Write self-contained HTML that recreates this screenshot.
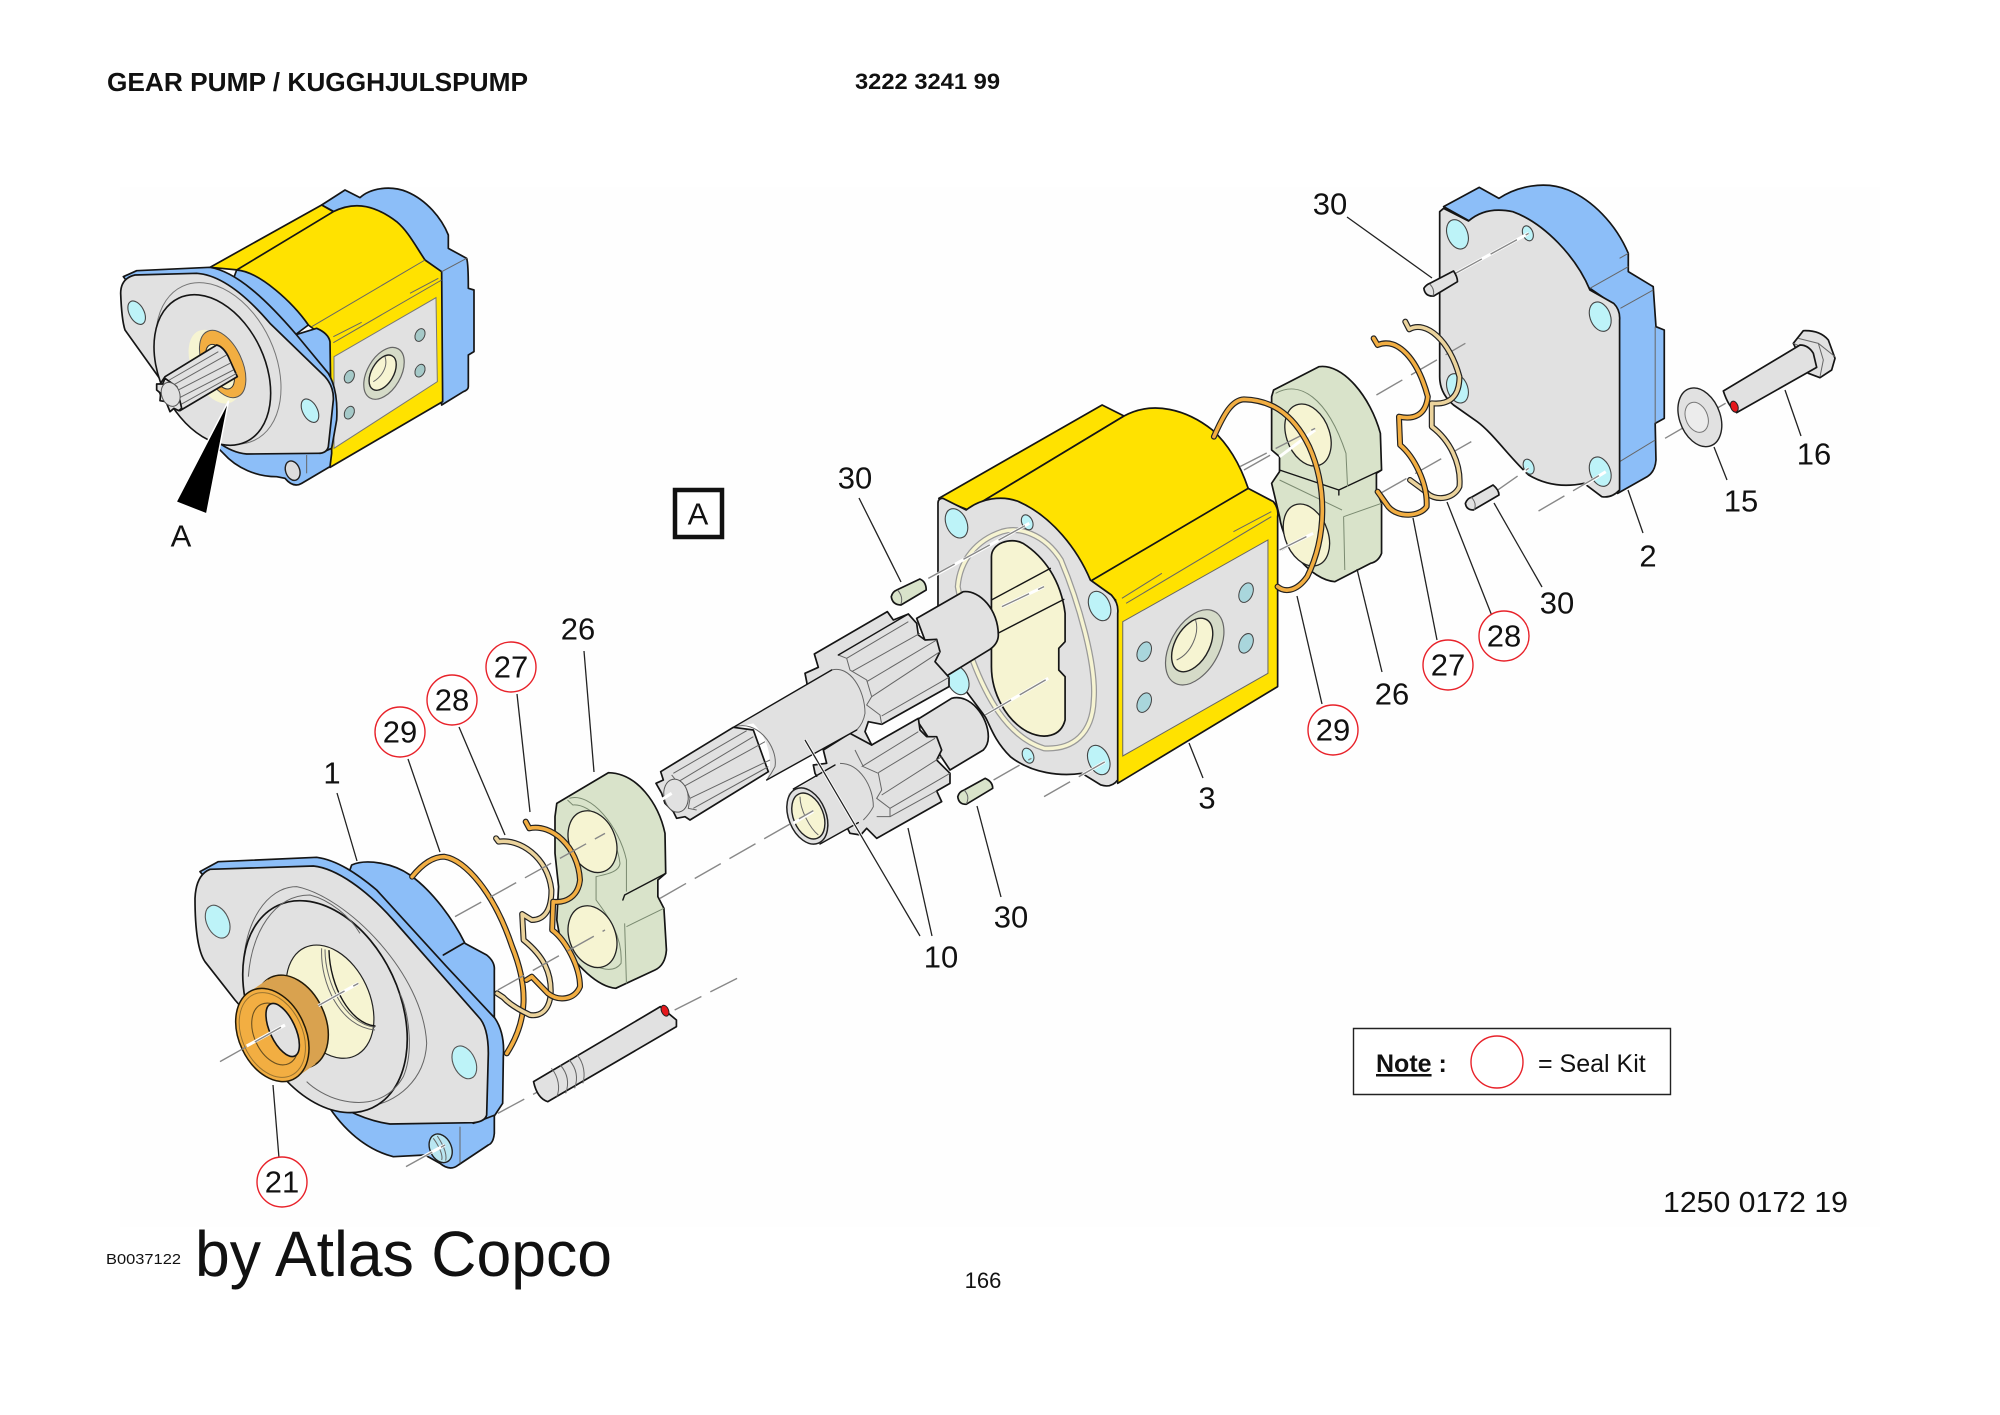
<!DOCTYPE html>
<html><head><meta charset="utf-8"><style>
html,body{margin:0;padding:0;background:#fff}
svg{display:block}
svg *{vector-effect:non-scaling-stroke}
.k{stroke:#151515;stroke-width:1.7;stroke-linejoin:round;stroke-linecap:round}
.t{stroke:#666;stroke-width:1;fill:none}
.n{stroke:#151515;stroke-width:1.4;fill:none;stroke-linecap:round;stroke-linejoin:round}
.y{fill:#FFE200}.b{fill:#8CBEF8}.g{fill:#E1E1E1}.c{fill:#F6F4D2}.h{fill:#BDF3F8}.s{fill:#D9E3CA}.o{fill:#F2AE42}
.ld{stroke:#222;stroke-width:1.3;fill:none}
.dw{stroke:#fff;stroke-width:3;fill:none}
.d{stroke:#888;stroke-width:1.4;fill:none;stroke-dasharray:30 10}
.rk{stroke:#222;stroke-width:6;fill:none;stroke-linejoin:round;stroke-linecap:round}
.ro{stroke:#F2AE42;stroke-width:3.6;fill:none;stroke-linejoin:round;stroke-linecap:round}
.rt{stroke:#EBD39C;stroke-width:3.6;fill:none;stroke-linejoin:round;stroke-linecap:round}
text{font-family:"Liberation Sans",sans-serif;fill:#111}
.l{font-size:31px;text-anchor:middle;dominant-baseline:central}
</style></head><body>
<svg xmlns="http://www.w3.org/2000/svg" width="2000" height="1415" viewBox="0 0 2000 1415">
<rect width="2000" height="1415" fill="#fff"/>
<rect x="120" y="187" width="1760" height="1040" fill="#fefefe"/>

<!-- small complete pump -->
<g transform="translate(80,160) scale(.33333)">
<path class="k b" d="M725,135 L795,90 L840,113 C870,85 930,75 980,95 C1040,120 1085,175 1105,225 L1105,265 L1160,295 Q1165,310 1165,385 L1182,390 L1182,575 L1165,585 L1165,680 Q1165,690 1150,695 L1085,735 L1030,300 Z"/>
<path class="k y" d="M390,322 L725,135 L760,155 L475,330 Z"/>
<path class="k y" d="M470,330 L760,155 C830,120 890,140 950,185 C985,215 1005,255 1035,300 L1085,335 L1088,725 L750,922 L745,540 L685,495 C640,430 540,340 470,330 Z"/>
<path class="t" d="M1035,300 L695,500 M1085,360 L760,548 M760,530 L845,487 M990,400 L1075,355 M1085,335 L1160,295"/>
<path class="g" stroke="#777" stroke-width="1" d="M762,590 L1068,413 L1072,665 L762,865 Z"/>
<ellipse cx="912" cy="640" rx="50" ry="85" transform="rotate(30 912 640)" fill="#D5DBC8" stroke="#666" stroke-width="1.2"/>
<ellipse cx="908" cy="638" rx="33" ry="58" transform="rotate(30 908 638)" class="c" stroke="#222" stroke-width="1.4"/>
<path class="t" d="M915,590 C925,620 905,650 880,665"/>
<g fill="#A5C9C8" stroke="#444" stroke-width="1"><ellipse cx="808" cy="650" rx="14" ry="20" transform="rotate(25 808 650)"/><ellipse cx="808" cy="758" rx="14" ry="20" transform="rotate(25 808 758)"/><ellipse cx="1020" cy="525" rx="14" ry="20" transform="rotate(25 1020 525)"/><ellipse cx="1020" cy="632" rx="14" ry="20" transform="rotate(25 1020 632)"/></g>
<path class="k b" d="M470,330 C540,335 640,430 685,495 L645,525 L710,505 Q745,520 750,545 L755,880 L750,920 L665,970 Q640,985 615,955 L590,950 C530,950 470,925 430,880 L310,760 Z"/>
<path class="k b" d="M130,350 L170,332 L390,322 C470,335 560,420 650,525 L745,640 Q775,690 770,780 L755,865 L720,880 L400,700 Z"/>
<path class="k g" d="M122,400 Q122,355 165,345 L350,340 C430,345 510,420 570,490 L735,650 Q762,680 760,720 L745,860 Q740,880 715,880 L500,882 C440,878 380,825 335,770 L235,650 L135,510 Q125,480 122,400 Z"/>
<path class="t" d="M680,885 L680,940"/>
<ellipse cx="638" cy="932" rx="21" ry="30" transform="rotate(-20 638 932)" fill="#ddd" stroke="#222" stroke-width="1.4"/>
<ellipse cx="170" cy="458" rx="22" ry="38" transform="rotate(-28 170 458)" class="h" stroke="#444" stroke-width="1.1"/>
<ellipse cx="690" cy="752" rx="22" ry="38" transform="rotate(-28 690 752)" class="h" stroke="#444" stroke-width="1.1"/>
<ellipse cx="415" cy="610" rx="170" ry="255" transform="rotate(-25 415 610)" fill="none" stroke="#777" stroke-width="1"/>
<ellipse cx="397" cy="630" rx="158" ry="238" transform="rotate(-25 397 630)" class="g" stroke="#151515" stroke-width="1.6"/>
<ellipse cx="405" cy="620" rx="68" ry="118" transform="rotate(-25 405 620)" class="c"/>
<ellipse cx="428" cy="612" rx="58" ry="108" transform="rotate(-25 428 612)" class="o" stroke="#555" stroke-width="1"/>
<ellipse cx="420" cy="620" rx="34" ry="72" transform="rotate(-25 420 620)" class="c" stroke="#333" stroke-width="1"/>
<path class="k g" d="M255,650 L410,555 Q430,560 445,590 L472,650 L300,752 Q240,730 235,680 Z"/>
<path class="t" d="M268,660 L415,575 M275,678 L440,585 M285,695 L450,610 M295,715 L460,630 M300,735 L470,640"/>
<path class="k g" d="M230,672 L248,672 L255,655 L290,680 L305,745 L296,752 L282,745 L270,755 L258,725 L240,722 L242,700 L230,690 Z"/>
<ellipse cx="272" cy="703" rx="27" ry="37" transform="rotate(-20 272 703)" class="g" stroke="#555" stroke-width="1"/>
<path fill="#000" stroke="#fff" stroke-width="1.5" d="M288,1026 L446,722 L380,1062 Z"/>
</g>
<text x="181" y="536" class="l">A</text>

<!-- big flange, part 1 -->
<g transform="translate(180,840) scale(.33333)">
<path class="k b" d="M515,75 C560,55 640,70 690,105 C760,155 820,240 855,310 L920,345 Q945,365 943,390 L943,880 Q940,910 925,915 L835,975 Q810,995 780,970 L735,945 L640,950 C560,930 490,870 440,790 L350,730 L400,400 Z"/>
<path class="t" d="M840,860 L840,970"/>
<path class="k" fill="none" d="M790,345 L850,310"/>
<path class="k b" d="M60,95 L115,65 L410,52 C470,60 530,100 590,150 L800,380 L945,535 Q975,580 970,650 L968,790 L945,825 L880,850 L500,600 Z"/>
<path class="k g" d="M45,175 Q48,105 90,88 L400,78 C470,85 560,150 640,240 L895,530 Q925,560 925,640 L920,825 Q915,845 880,848 L630,852 C540,840 460,790 400,750 L165,480 L75,365 Q45,320 45,175 Z"/>
<ellipse cx="113" cy="245" rx="33" ry="52" transform="rotate(-25 113 245)" class="h" stroke="#555" stroke-width="1.1"/>
<ellipse cx="853" cy="667" rx="33" ry="52" transform="rotate(-25 853 667)" class="h" stroke="#555" stroke-width="1.1"/>
<path class="t" d="M190,390 C190,250 260,140 350,140 C500,170 730,400 740,610 C735,720 650,790 560,800"/>
<ellipse cx="435" cy="500" rx="223" ry="335" transform="rotate(-25 435 500)" class="g" stroke="#151515" stroke-width="1.7"/>
<path class="t" d="M205,410 C215,280 280,165 390,165 C450,180 510,230 540,280 M660,460 C690,530 700,640 670,710 C630,780 560,800 480,780 C440,770 400,745 380,725"/>
<ellipse cx="450" cy="485" rx="119" ry="179" transform="rotate(-25 450 485)" class="c" stroke="#222" stroke-width="1.2"/>
<path class="t" d="M425,325 C420,430 480,560 585,570 M435,328 C435,430 495,550 585,562"/>
<path class="n" d="M447,332 C450,440 510,550 585,558"/>
<!-- seal -->
<ellipse cx="335" cy="545" rx="100" ry="147" transform="rotate(-25 335 545)" fill="#D9A24F" stroke="#221a08" stroke-width="1.5"/>
<path fill="#D9A24F" d="M205,458 L263,418 L407,672 L349,712 Z"/>
<ellipse cx="277" cy="585" rx="100" ry="147" transform="rotate(-25 277 585)" class="o" stroke="#221a08" stroke-width="1.5"/>
<ellipse cx="277" cy="585" rx="90" ry="134" transform="rotate(-25 277 585)" fill="none" stroke="#9a7430" stroke-width="1"/>
<ellipse cx="285" cy="582" rx="62" ry="98" transform="rotate(-25 285 582)" fill="none" stroke="#6a5020" stroke-width="1.1"/>
<ellipse cx="308" cy="570" rx="38" ry="86" transform="rotate(-25 308 570)" class="g" stroke="#151515" stroke-width="1.6"/>
<path class="dw" d="M200,618 L315,555 M415,497 L535,430"/><path class="d" d="M120,665 L315,555"/><path class="d" d="M415,497 L535,430" stroke-dasharray="60 8"/>
<!-- boss -->
<ellipse cx="782" cy="925" rx="32" ry="45" transform="rotate(-25 782 925)" fill="#B9E6F1" stroke="#222" stroke-width="1.4"/>
<path class="t" d="M760,895 C775,915 790,945 785,960 M772,888 C790,915 802,940 797,962"/>
<path class="dw" d="M720,955 L795,915"/><path class="d" d="M678,980 L795,915"/>
</g>

<!-- rings, plate, pin -->
<g transform="translate(180,760) scale(.35714,.33333)">
<path class="rk" d="M650,350 C680,310 710,290 740,290 C800,300 880,400 930,560 C975,680 975,780 915,880"/>
<path class="ro" d="M650,350 C680,310 710,290 740,290 C800,300 880,400 930,560 C975,680 975,780 915,880"/>
<path class="k s" d="M1050,170 L1055,130 L1200,38 C1280,40 1340,130 1358,220 L1360,340 L1338,360 L1338,410 L1355,445 L1362,570 C1360,600 1350,620 1330,630 L1220,685 C1170,680 1110,620 1065,540 L1055,480 L1060,380 L1050,280 Z"/>
<path class="n" d="M1245,405 L1360,340 M1245,405 L1240,420"/>
<path stroke="#7a8a70" stroke-width="1" fill="none" d="M1090,115 C1150,95 1230,200 1250,300 L1250,395 M1245,490 L1250,670 M1250,500 L1355,445"/>
<path d="M1085,120 L1100,135 C1150,130 1220,210 1232,310 C1230,340 1180,345 1165,350 L1165,420 C1200,470 1240,530 1235,610 C1215,640 1170,630 1140,600" stroke="#7a8a70" stroke-width="1" fill="none"/>
<ellipse cx="1155" cy="245" rx="65" ry="95" transform="rotate(-18 1155 245)" class="c" stroke="#222" stroke-width="1.3"/>
<ellipse cx="1155" cy="530" rx="65" ry="95" transform="rotate(-18 1155 530)" class="c" stroke="#222" stroke-width="1.3"/>
<path class="rk" d="M885,235 L892,245 C950,235 1030,290 1040,390 C1040,450 1020,480 985,480 L958,462 L962,540 C1020,590 1040,640 1038,700 C1035,750 1010,770 980,765 C950,750 920,730 905,712 L888,700"/>
<path class="rt" d="M885,235 L892,245 C950,235 1030,290 1040,390 C1040,450 1020,480 985,480 L958,462 L962,540 C1020,590 1040,640 1038,700 C1035,750 1010,770 980,765 C950,750 920,730 905,712 L888,700"/>
<path class="rk" d="M968,185 L978,205 C1040,190 1115,260 1120,360 C1115,410 1080,430 1045,425 L1042,510 C1080,540 1120,620 1120,680 C1105,720 1060,725 1030,700 L985,650 L970,660"/>
<path class="ro" d="M968,185 L978,205 C1040,190 1115,260 1120,360 C1115,410 1080,430 1045,425 L1042,510 C1080,540 1120,620 1120,680 C1105,720 1060,725 1030,700 L985,650 L970,660"/>
<path class="d" d="M770,470 L1190,220 M890,690 L1190,510"/>
<path class="d" d="M1385,750 L1560,655 M890,1060 L1020,985"/>
<path class="k g" d="M990,965 L1345,740 L1390,780 L1390,800 L1030,1025 Q1000,1015 990,965 Z"/>
<path class="t" d="M1040,925 C1060,950 1065,985 1055,1010 M1065,915 C1085,940 1090,970 1080,1000 M1090,900 C1110,925 1115,955 1105,985 M1112,885 C1132,910 1135,945 1128,970"/>
<ellipse cx="1358" cy="752" rx="10" ry="17" transform="rotate(-20 1358 752)" fill="#E5171B" stroke="#222" stroke-width="1"/>
</g>

<!-- housing -->
<g transform="translate(640,400) scale(.42088,.33333)">
<path class="k y" d="M710,295 L1098,15 L1150,48 L780,330 Z"/>
<path class="k y" d="M1150,48 C1220,0 1300,30 1360,90 C1395,130 1425,190 1445,265 L1505,305 Q1518,325 1515,350 L1515,860 L1135,1150 L1130,600 L1070,540 C1040,470 970,370 880,310 C850,290 810,300 780,330 Z"/>
<path class="k" fill="none" d="M1075,540 L1445,265"/>
<path class="t" d="M1145,595 L1240,520 M1410,395 L1500,335 M1155,610 L1500,350"/>
<path class="g" stroke="#666" stroke-width="1" d="M1147,665 L1492,420 L1492,820 L1147,1068 Z"/>
<ellipse cx="1318" cy="742" rx="60" ry="118" transform="rotate(20 1318 742)" fill="#D5DBC8" stroke="#666" stroke-width="1.2"/>
<ellipse cx="1312" cy="735" rx="42" ry="84" transform="rotate(20 1312 735)" class="c" stroke="#222" stroke-width="1.4"/>
<path class="t" d="M1320,660 C1330,700 1310,760 1275,780"/>
<g fill="#A9D6DC" stroke="#444" stroke-width="1"><ellipse cx="1198" cy="755" rx="16" ry="30" transform="rotate(15 1198 755)"/><ellipse cx="1198" cy="908" rx="16" ry="30" transform="rotate(15 1198 908)"/><ellipse cx="1440" cy="578" rx="16" ry="30" transform="rotate(15 1440 578)"/><ellipse cx="1440" cy="730" rx="16" ry="30" transform="rotate(15 1440 730)"/></g>
<path class="k g" d="M708,310 Q708,295 720,295 L775,330 C810,295 860,285 900,305 C980,350 1040,450 1070,540 L1120,585 Q1138,610 1135,640 L1135,1140 Q1120,1165 1095,1155 L1050,1120 C1000,1130 930,1120 880,1070 C840,1020 830,970 820,950 L708,760 Z"/>
<path d="M860,395 C800,420 760,480 755,560 L790,780 C820,880 870,1010 960,1045 C1030,1050 1075,1000 1078,900 C1085,790 1040,600 1000,480 C960,400 900,380 860,395 Z" fill="none" stroke="#999" stroke-width="6"/>
<path d="M860,395 C800,420 760,480 755,560 L790,780 C820,880 870,1010 960,1045 C1030,1050 1075,1000 1078,900 C1085,790 1040,600 1000,480 C960,400 900,380 860,395 Z" fill="none" stroke="#F6F4D2" stroke-width="3.5"/>
<path class="k c" d="M835,470 C835,430 880,410 910,430 C960,470 1000,540 1010,640 L1010,725 L995,745 L995,810 L1010,830 L1010,960 C1000,1010 960,1020 920,995 C870,960 835,880 835,800 Z"/>
<path class="n" d="M835,600 L975,505 M850,700 L1007,598"/>
<g class="h" stroke="#444" stroke-width="1.1">
<ellipse cx="752" cy="370" rx="25" ry="45" transform="rotate(-15 752 370)"/>
<ellipse cx="1092" cy="618" rx="25" ry="45" transform="rotate(-15 1092 618)"/>
<ellipse cx="1090" cy="1080" rx="25" ry="45" transform="rotate(-15 1090 1080)"/>
<ellipse cx="755" cy="840" rx="25" ry="45" transform="rotate(-15 755 840)"/>
<ellipse cx="920" cy="367" rx="13" ry="23" transform="rotate(-15 920 367)"/>
<ellipse cx="922" cy="1067" rx="13" ry="23" transform="rotate(-15 922 1067)"/>
</g>
<path class="dw" d="M695,530 L925,370 M820,945 L970,835 M860,620 L960,560 M1050,1125 L1105,1085"/><path class="d" d="M685,535 L925,370 M820,945 L970,835 M860,620 L960,560 M960,1190 L1105,1085 M840,1140 L930,1075"/>
<path class="d" d="M1435,210 L1568,115 M1525,450 L1568,420"/>
<path class="k s" d="M597,590 Q600,575 610,570 L665,537 Q680,545 680,570 L620,615 Q600,615 597,590 Z"/>
<path class="k s" d="M755,1190 Q758,1175 770,1170 L820,1135 Q838,1145 838,1165 L775,1213 Q757,1213 755,1190 Z"/>
<path class="t" d="M612,570 Q626,590 620,612 M770,1170 Q785,1190 775,1212"/>
</g>

<!-- gears and shafts -->
<g transform="translate(650,590) scale(.33333)">
<!-- lower gear -->
<path class="k g" d="M800,390 L905,325 C960,310 1015,380 1015,440 Q1015,465 1000,480 L900,540 L820,420 Z"/>
<path class="k g" d="M520,480 L600,430 L625,440 L665,465 L805,385 L810,420 L830,440 L860,440 L875,480 L860,510 L900,550 L900,580 L860,603 L875,635 L680,745 L650,715 L632,735 L600,730 L590,710 L495,550 L490,525 L530,520 Z"/>
<path class="t" d="M635,530 L805,425 M685,548 L855,445 M695,615 L875,500 M720,655 L900,550 M615,480 L640,530 L685,550 L695,600 L680,625 L720,655 L720,680 L680,680 M720,680 L860,603" stroke="#555"/>
<!-- bushing -->
<path class="g" d="M415,610 L570,520 C630,520 670,590 670,650 Q660,670 640,690 L510,762 C470,755 405,690 415,610 Z"/>
<path class="t" stroke="#666" d="M570,520 C630,520 670,590 670,650 Q660,670 640,690"/>
<path class="n" d="M430,597 L555,525 M510,762 L625,698"/>
<ellipse cx="472" cy="678" rx="56" ry="88" transform="rotate(-22 472 678)" class="g" stroke="#222" stroke-width="1.5"/>
<ellipse cx="475" cy="678" rx="45" ry="72" transform="rotate(-22 475 678)" class="c" stroke="#222" stroke-width="1.4"/>
<path class="t" d="M450,620 C450,660 480,715 505,735"/>
<path class="dw" d="M430,700 L490,664"/><path class="d" d="M30,925 L490,662"/>
<!-- upper gear -->
<path class="k g" d="M800,85 L940,5 C990,0 1045,60 1045,135 Q1045,160 1020,178 L870,270 Z"/>
<path class="k g" d="M493,192 L712,65 L730,90 L775,72 L800,100 L805,135 L825,150 L860,148 L870,185 L855,215 L897,262 L897,290 L695,403 L655,395 L645,425 L665,465 L600,430 L500,480 L470,275 L465,250 L505,232 Z"/>
<path class="t" stroke="#555" d="M590,205 L775,95 M605,245 L810,130 M650,275 L860,150 M665,320 L870,185 M695,378 L897,262 M565,195 L590,205 L600,240 L650,270 L665,320 L650,345 L690,375 L695,403"/>
<path class="n" d="M565,195 L775,72"/>
<!-- shaft -->
<path class="g" d="M250,412 L545,240 C600,225 645,300 645,370 Q640,400 620,420 L350,570 C370,520 360,450 310,400 Z"/>
<path class="t" stroke="#666" d="M545,240 C600,225 645,300 645,370 Q640,400 620,420 M250,412 C320,385 385,470 375,530 Q365,550 350,570"/>
<path class="n" d="M250,412 L545,240 M350,570 L620,420"/>
<!-- spline -->
<path class="k g" d="M32,545 L250,412 L310,420 L355,545 L120,690 L105,680 L80,685 L70,665 L45,640 L35,610 L18,580 L40,570 Z"/>
<path class="t" stroke="#555" d="M70,550 L290,422 M85,575 L310,440 M100,590 L345,455 M120,625 L360,510 M130,655 L355,530 M65,555 L85,580 L110,600 L120,625 L115,655 L140,660"/>
<ellipse cx="78" cy="617" rx="36" ry="50" transform="rotate(-12 78 617)" class="g" stroke="#555" stroke-width="1"/>
<path class="dw" d="M25,635 L65,610"/>
</g>

<!-- rear cover, rings, plate -->
<g transform="translate(1240,170) scale(.39541,.33333)">
<path class="k b" d="M515,110 L605,52 L655,85 C700,50 770,30 830,60 C890,90 950,160 982,250 L982,305 L1045,350 L1052,470 L1073,480 L1073,745 L1050,760 L1052,870 Q1050,905 1030,920 L955,970 L940,400 L885,355 Z"/>
<path class="t" d="M885,355 L982,290 M962,415 L1045,360 M960,265 L982,250 M960,875 L1050,810 M1050,470 L1050,760"/>
<path class="k g" d="M505,125 L515,115 L578,153 C610,120 650,115 690,125 C770,160 850,260 885,360 L945,400 Q962,420 960,450 L960,960 Q940,985 915,980 L870,940 C830,950 780,950 730,915 C680,860 640,790 600,755 L540,705 Q505,670 505,620 Z"/>
<g class="h" stroke="#444" stroke-width="1.1">
<ellipse cx="550" cy="193" rx="26" ry="45" transform="rotate(-15 550 193)"/>
<ellipse cx="911" cy="440" rx="26" ry="45" transform="rotate(-15 911 440)"/>
<ellipse cx="911" cy="905" rx="26" ry="45" transform="rotate(-15 911 905)"/>
<ellipse cx="550" cy="655" rx="26" ry="45" transform="rotate(-15 550 655)"/>
<ellipse cx="728" cy="190" rx="13" ry="23" transform="rotate(-15 728 190)"/>
<ellipse cx="730" cy="890" rx="13" ry="23" transform="rotate(-15 730 890)"/>
</g>
<path class="dw" d="M545,310 L730,190 M650,965 L730,895 M850,960 L925,905"/>
<path class="d" d="M545,310 L730,190 M640,970 L730,895 M755,1023 L925,905 M345,675 L570,520 M355,970 L585,815 M1075,805 L1235,695"/>
<path class="k g" d="M465,355 Q470,345 480,340 L540,303 Q550,320 550,335 L490,378 Q468,380 465,355 Z"/>
<path class="t" d="M480,342 Q494,360 488,378"/>
<path class="k g" d="M570,1000 Q575,985 585,982 L640,945 Q655,960 655,975 L590,1020 Q572,1020 570,1000 Z"/>
<path class="t" d="M585,982 Q600,1000 592,1020"/>
<!-- plate -->
<path class="k s" d="M80,680 L85,660 L200,590 C260,580 330,680 355,790 L358,900 L345,910 L345,960 L358,1000 L358,1150 Q350,1175 330,1180 L240,1235 C180,1230 110,1130 100,1040 L80,940 L100,905 L100,860 L80,840 Z"/>
<path class="n" d="M250,960 L358,900 M100,900 L250,960 L250,975"/>
<path stroke="#7a8a70" stroke-width="1" fill="none" d="M90,670 C150,630 220,680 268,850 L272,950 M262,1040 L265,1200 M262,1040 L358,1000 M100,930 L258,1020"/>
<ellipse cx="172" cy="795" rx="55" ry="95" transform="rotate(-15 172 795)" class="c" stroke="#222" stroke-width="1.3"/>
<ellipse cx="168" cy="1095" rx="55" ry="95" transform="rotate(-15 168 1095)" class="c" stroke="#222" stroke-width="1.3"/>
<path class="dw" d="M100,860 L190,780 M100,1140 L185,1090"/>
<path class="d" d="M0,890 L190,775 M100,1140 L185,1090"/>
<path class="rk" d="M418,455 L428,478 C470,450 530,510 555,620 C555,680 530,705 485,700 L485,770 C530,810 560,880 555,950 C540,990 490,995 470,965 L430,930"/>
<path class="rt" d="M418,455 L428,478 C470,450 530,510 555,620 C555,680 530,705 485,700 L485,770 C530,810 560,880 555,950 C540,990 490,995 470,965 L430,930"/>
<path class="rk" d="M338,505 L348,525 C400,500 450,570 475,680 C470,735 440,750 402,740 L405,825 C440,860 475,940 472,1010 C455,1040 400,1045 375,1010 L348,965"/>
<path class="ro" d="M338,505 L348,525 C400,500 450,570 475,680 C470,735 440,750 402,740 L405,825 C440,860 475,940 472,1010 C455,1040 400,1045 375,1010 L348,965"/>
<path class="rk" d="M-66,800 C-40,730 -20,690 10,688 C70,690 130,720 175,830 C220,950 220,1100 170,1220 C140,1270 110,1265 95,1250"/>
<path class="ro" d="M-66,800 C-40,730 -20,690 10,688 C70,690 130,720 175,830 C220,950 220,1100 170,1220 C140,1270 110,1265 95,1250"/>
<ellipse cx="1163" cy="742" rx="52" ry="90" transform="rotate(-15 1163 742)" class="g" stroke="#222" stroke-width="1.4"/>
<ellipse cx="1155" cy="742" rx="28" ry="46" transform="rotate(-15 1155 742)" fill="#ececec" stroke="#777" stroke-width="1"/>
</g>

<!-- bolt -->
<g transform="translate(1680,310) scale(.33333)">
<path class="k g" d="M340,100 L370,62 Q420,60 445,90 L465,145 L455,180 L420,203 L385,190 Z"/>
<path class="t" d="M355,85 L415,100 L465,140 M415,100 L430,150 L420,200 M340,100 L385,120"/>
<path class="k g" d="M130,243 L360,105 Q385,105 400,130 L410,172 L170,308 Q145,290 130,243 Z"/>
<ellipse cx="163" cy="290" rx="11" ry="17" transform="rotate(-20 163 290)" fill="#E5171B" stroke="#222" stroke-width="1"/>
</g>

<!-- leader lines -->
<g class="ld">
<path d="M1347,217 L1432,278"/><path d="M1628,490 L1643,533"/><path d="M1714,447 L1727,480"/><path d="M1785,390 L1801,436"/><path d="M1494,503 L1542,587"/>
<path d="M1413,518 L1437,640"/><path d="M1447,502 L1492,616"/><path d="M1357,569 L1382,672"/><path d="M1297,596 L1322,704"/>
<path d="M1189,743 L1203,778"/><path d="M977,806 L1001,897"/><path d="M859,498 L901,582"/>
<path d="M805,740 L920,936" stroke="#fff" stroke-width="3"/><path d="M805,740 L920,936"/><path d="M908,828 L932,936"/>
<path d="M337,793 L357,861"/><path d="M408,759 L440,852"/><path d="M459,727 L505,835"/><path d="M517,694 L530,812"/><path d="M584,651 L594,772"/><path d="M273,1085 L279,1158"/>
</g>

<!-- labels -->
<text x="107" y="91" font-size="26" font-weight="bold" textLength="421" lengthAdjust="spacingAndGlyphs">GEAR PUMP / KUGGHJULSPUMP</text>
<text x="855" y="89" font-size="22" font-weight="bold" textLength="145" lengthAdjust="spacingAndGlyphs">3222 3241 99</text>
<rect x="675" y="490" width="47" height="47" fill="#fff" stroke="#111" stroke-width="4.5"/>
<text x="698" y="514" class="l">A</text>
<g fill="#fff" stroke="#E8222A" stroke-width="1.4">
<circle cx="511" cy="667" r="25"/><circle cx="452" cy="700" r="25"/><circle cx="400" cy="732" r="25"/><circle cx="282" cy="1182" r="25"/><circle cx="1333" cy="730" r="25"/><circle cx="1448" cy="665" r="25"/><circle cx="1504" cy="636" r="25"/>
</g>
<text x="1330" y="204" class="l">30</text><text x="855" y="478" class="l">30</text><text x="578" y="629" class="l">26</text>
<text x="511" y="667" class="l">27</text><text x="452" y="700" class="l">28</text><text x="400" y="732" class="l">29</text>
<text x="332" y="773" class="l">1</text><text x="282" y="1182" class="l">21</text><text x="941" y="957" class="l">10</text>
<text x="1011" y="917" class="l">30</text><text x="1207" y="798" class="l">3</text><text x="1333" y="730" class="l">29</text>
<text x="1392" y="694" class="l">26</text><text x="1448" y="665" class="l">27</text><text x="1504" y="636" class="l">28</text>
<text x="1557" y="603" class="l">30</text><text x="1648" y="556" class="l">2</text><text x="1741" y="501" class="l">15</text><text x="1814" y="454" class="l">16</text>
<rect x="1353.5" y="1028.5" width="317" height="66" fill="#fff" stroke="#222" stroke-width="1.4"/>
<text x="1376" y="1072" font-size="25" font-weight="bold"><tspan text-decoration="underline">Note</tspan> :</text>
<circle cx="1497" cy="1062" r="26" fill="#fff" stroke="#E8222A" stroke-width="1.4"/>
<text x="1538" y="1072" font-size="25">= Seal Kit</text>
<text x="1663" y="1212" font-size="29" textLength="185" lengthAdjust="spacingAndGlyphs">1250 0172 19</text>
<text x="106" y="1264" font-size="15" textLength="75" lengthAdjust="spacingAndGlyphs">B0037122</text>
<text x="195" y="1276" font-size="64" textLength="417" lengthAdjust="spacingAndGlyphs">by Atlas Copco</text>
<text x="983" y="1288" font-size="22" text-anchor="middle">166</text>
</svg>
</body></html>
